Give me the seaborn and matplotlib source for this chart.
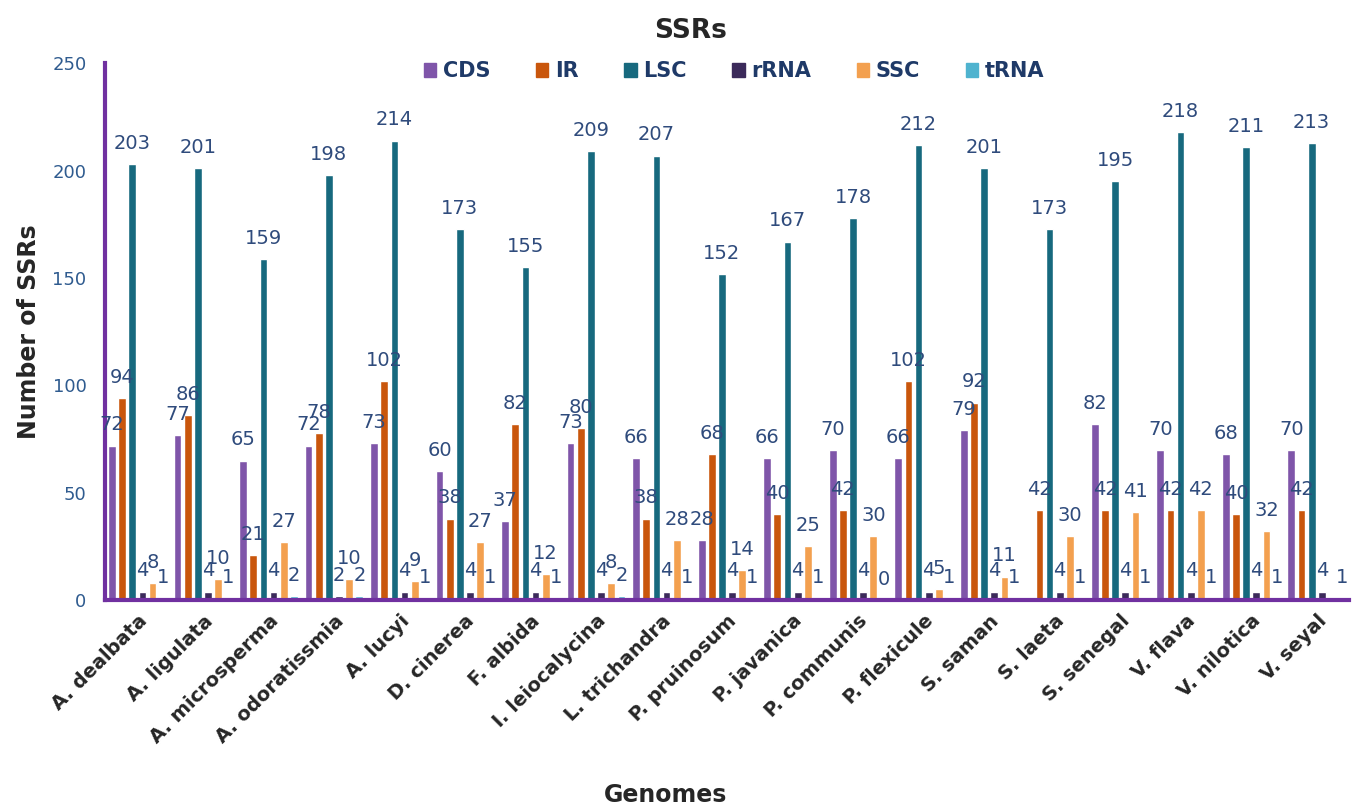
import numpy as np
import pandas as pd
import matplotlib
matplotlib.use("Agg")
import matplotlib.pyplot as plt
import seaborn as sns

genomes = ["A. dealbata", "A. ligulata", "A. microsperma", "A. odoratissmia", "A. lucyi",
           "D. cinerea", "F. albida", "I. leiocalycina", "L. trichandra", "P. pruinosum",
           "P. javanica", "P. communis", "P. flexicule", "S. saman", "S. laeta",
           "S. senegal", "V. flava", "V. nilotica", "V. seyal"]
regions = ["CDS", "IR", "LSC", "rRNA", "SSC", "tRNA"]

cds = [72, 77, 65, 72, 73, 60, 37, 73, 66, 28, 66, 70, 66, 79, np.nan, 82, 70, 68, 70]
ir = [94, 86, 21, 78, 102, 38, 82, 80, 38, 68, 40, 42, 102, 92, 42, 42, 42, 40, 42]
lsc = [203, 201, 159, 198, 214, 173, 155, 209, 207, 152, 167, 178, 212, 201, 173, 195, 218, 211, 213]
rrna = [4, 4, 4, 2, 4, 4, 4, 4, 4, 4, 4, 4, 4, 4, 4, 4, 4, 4, 4]
ssc = [8, 10, 27, 10, 9, 27, 12, 8, 28, 14, 25, 30, 5, 11, 30, 41, 42, 32, np.nan]
trna = [1, 1, 2, 2, 1, 1, 1, 2, 1, 1, 1, 0, 1, 1, 1, 1, 1, 1, 1]

colors = ["#7f55a9", "#c9560c", "#17697e", "#3b2a5a", "#f3a04f", "#4fb3cf"]

df = pd.DataFrame({"Genome": genomes, "CDS": cds, "IR": ir, "LSC": lsc,
                   "rRNA": rrna, "SSC": ssc, "tRNA": trna})
long = df.melt(id_vars="Genome", var_name="Region", value_name="Count")

sns.set_style("white")
plt.rcParams["font.family"] = ["DejaVu Sans"]

fig = plt.figure(figsize=(13.59, 8.11), dpi=100)
ax = fig.add_axes([0.077, 0.26, 0.916, 0.662])

sns.barplot(data=long, x="Genome", y="Count", hue="Region", hue_order=regions,
            order=genomes, palette=colors, width=0.93, gap=0.24, ax=ax,
            legend=False, saturation=1, errorbar=None)

# value labels above every bar (they overlap in places, as in the original)
label_color = "#2f4b7c"
for cont in ax.containers:
    ax.bar_label(cont, fmt="%g", padding=8, color=label_color, fontsize=14)

purple = "#7030a0"
ax.set_ylim(0, 250)
ax.set_xlim(-0.5, len(genomes) - 0.5)
ax.set_yticks(range(0, 251, 50))
for side in ["top", "right"]:
    ax.spines[side].set_visible(False)
for side in ["left", "bottom"]:
    ax.spines[side].set_color(purple)
    ax.spines[side].set_linewidth(3)
ax.tick_params(axis="y", direction="out", length=5, width=3, color=purple,
               labelcolor="#2f5b8f", labelsize=13, pad=8)
ax.tick_params(axis="x", length=0, pad=8)
plt.setp(ax.get_xticklabels(), rotation=45, ha="right", rotation_mode="anchor",
         fontweight="bold", fontsize=14)

ax.set_ylabel("Number of SSRs", fontsize=17, fontweight="bold", labelpad=8)
ax.set_xlabel("")
fig.text(0.49, 0.02, "Genomes", ha="center", va="center", fontsize=17, fontweight="bold")

fig.text(0.508, 0.962, "SSRs", ha="center", va="center", fontsize=19, fontweight="bold")

handles = [plt.Rectangle((0, 0), 1, 1, color=c) for c in colors]
leg = fig.legend(handles, regions, loc="center", bbox_to_anchor=(0.54, 0.912), ncol=6,
                 frameon=False, handlelength=0.6, handleheight=0.6, handletextpad=0.3,
                 columnspacing=2.2, prop={"weight": "bold", "size": 15})
for t in leg.get_texts():
    t.set_color("#1f3a68")

fig.savefig("out.png", dpi=100, facecolor="white")
